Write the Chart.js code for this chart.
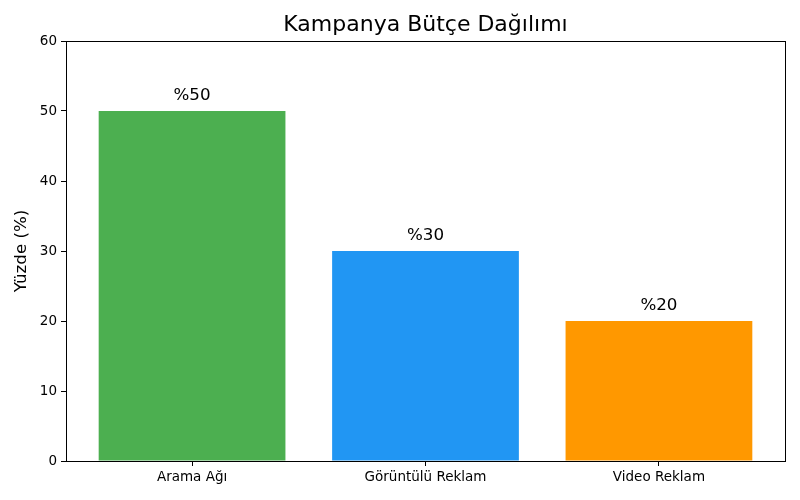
<!DOCTYPE html>
<html>
<head>
<meta charset="utf-8">
<script src="https://cdn.jsdelivr.net/npm/chart.js@4"></script>
<style>
html,body{margin:0;padding:0;background:#fff;}
#wrap{width:800px;height:500px;}
</style>
</head>
<body>
<div id="wrap"><canvas id="c" width="800" height="500"></canvas></div>
<script>
const categories = ["Arama Ağı", "Görüntülü Reklam", "Video Reklam"];
const values = [50, 30, 20];
const barColors = ["#4CAF50", "#2196F3", "#FF9800"];
const valueLabels = ["%50", "%30", "%20"];
const yTicks = [0, 10, 20, 30, 40, 50, 60];
const chartTitle = "Kampanya Bütçe Dağılımı";

const FONT = "DejaVu Sans";

const framePlugin = {
  id: 'frame',
  afterDraw(chart) {
    const {ctx, chartArea: a} = chart;
    ctx.save();
    ctx.strokeStyle = '#000';
    ctx.lineWidth = 1;
    ctx.strokeRect(Math.round(a.left) + 0.5, Math.round(a.top) + 0.5, Math.round(a.right - a.left), Math.round(a.bottom - a.top));
    ctx.font = "22px '" + FONT + "'";
    ctx.fillStyle = '#000';
    ctx.textAlign = 'center';
    ctx.textBaseline = 'middle';
    ctx.fillText(chartTitle, (a.left + a.right) / 2, a.top - 16);
    ctx.restore();
  }
};

const labelPlugin = {
  id: 'vlabels',
  afterDatasetsDraw(chart) {
    const {ctx} = chart;
    const meta = chart.getDatasetMeta(0);
    const ys = chart.scales.y;
    ctx.save();
    ctx.font = "16.7px '" + FONT + "'";
    ctx.fillStyle = '#000';
    ctx.textAlign = 'center';
    ctx.textBaseline = 'bottom';
    meta.data.forEach((bar, i) => {
      ctx.fillText(valueLabels[i], bar.x, ys.getPixelForValue(values[i] + 1));
    });
    ctx.restore();
  }
};

new Chart(document.getElementById('c'), {
  type: 'bar',
  data: {
    datasets: [{
      data: values.map((v, i) => ({x: i, y: v})),
      backgroundColor: barColors,
      borderWidth: 0,
      barPercentage: 0.8,
      categoryPercentage: 1.0
    }]
  },
  plugins: [framePlugin, labelPlugin],
  options: {
    responsive: false,
    animation: false,
    devicePixelRatio: 1,
    layout: {padding: {left: 0, right: 15, top: 41, bottom: 0}},
    plugins: {
      legend: {display: false},
      tooltip: {enabled: false},
      title: {display: false}
    },
    scales: {
      x: {
        type: 'linear',
        offset: false,
        min: -0.54,
        max: 2.54,
        afterBuildTicks(scale) {
          scale.ticks = categories.map((c, i) => ({value: i}));
        },
        afterFit(scale) { scale.height = 39; },
        ticks: {
          callback: (v) => categories[v],
          color: '#000',
          font: {family: FONT, size: 13.5},
          padding: 3,
          maxRotation: 0,
          autoSkip: false
        },
        grid: {display: true, offset: false, drawOnChartArea: false, drawTicks: true, tickLength: 5, color: '#000'},
        border: {display: true, color: '#000'}
      },
      y: {
        min: 0,
        max: 60,
        afterBuildTicks(scale) {
          scale.ticks = yTicks.map(v => ({value: v}));
        },
        afterFit(scale) { scale.width = 66; },
        ticks: {
          color: '#000',
          font: {family: FONT, size: 13.5},
          padding: 4
        },
        grid: {display: true, drawOnChartArea: false, drawTicks: true, tickLength: 5, color: '#000'},
        border: {display: true, color: '#000'},
        title: {
          display: true,
          text: "Yüzde (%)",
          color: '#000',
          font: {family: FONT, size: 16.7},
          padding: {top: 12, bottom: 0}
        }
      }
    }
  }
});
</script>
</body>
</html>
